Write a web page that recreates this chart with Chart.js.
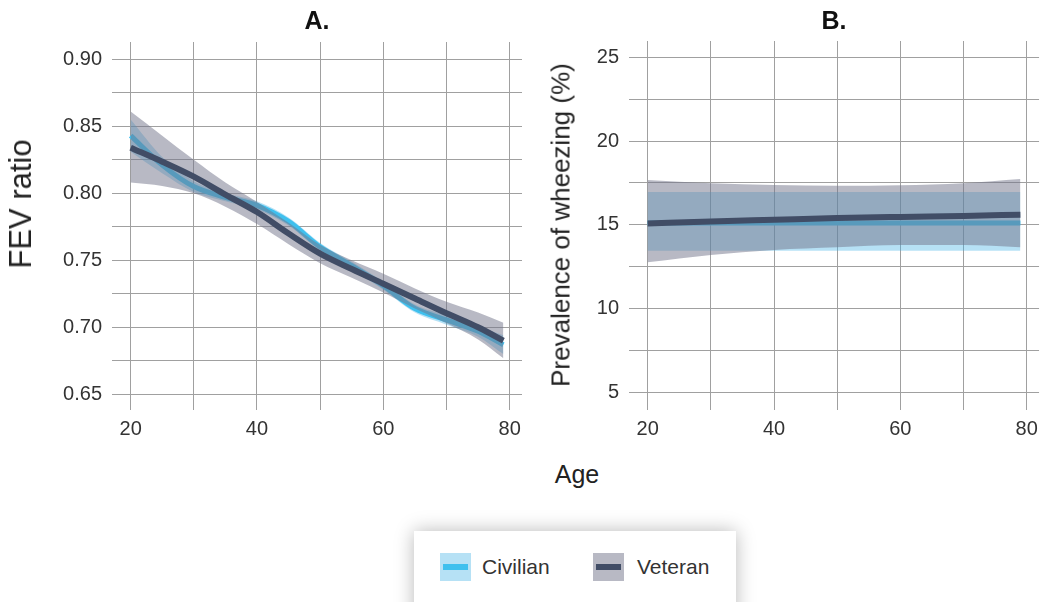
<!DOCTYPE html>
<html><head><meta charset="utf-8">
<script src="https://cdn.jsdelivr.net/npm/chart.js@4.4.0/dist/chart.umd.min.js"></script>
<style>
body{margin:0;background:#fff;width:1045px;height:602px;overflow:hidden;position:relative;font-family:"Liberation Sans",Arial,sans-serif;color:#222}
canvas{position:absolute;top:0}
.t{position:absolute;white-space:nowrap;transform:translate(-50%,-50%)}
.rot{transform:translate(-50%,-50%) rotate(-90deg)}
#legend{position:absolute;left:414px;top:531px;width:322px;height:100px;background:#fff;box-shadow:0 0 18px rgba(0,0,0,0.28)}
.sw{position:absolute;width:31px;height:28px}
.sw i{position:absolute;left:3px;top:11px;width:25px;height:6px}
.lt{position:absolute;font-size:21px;color:#333;transform:translateY(-50%)}
</style></head>
<body>
<canvas id="cA" width="530" height="450" style="left:0"></canvas>
<canvas id="cB" width="515" height="450" style="left:530px"></canvas>
<div class="t" style="left:317px;top:20px;font-weight:bold;font-size:25px;color:#111">A.</div>
<div class="t" style="left:834px;top:20px;font-weight:bold;font-size:25px;color:#111">B.</div>
<div class="t rot" style="left:21px;top:204px;font-size:31px">FEV ratio</div>
<div class="t rot" style="left:561px;top:225px;font-size:26px">Prevalence of wheezing (%)</div>
<div class="t" style="left:577px;top:474px;font-size:25px">Age</div>
<div id="legend"></div>
<script>
// ---- data ----
const seriesNames = ['Civilian', 'Veteran'];
const agesA = [20, 25, 30, 35, 40, 45, 50, 55, 60, 65, 70, 75, 79];
const civFEV      = [0.843, 0.821, 0.805, 0.797, 0.791, 0.779, 0.760, 0.746, 0.731, 0.714, 0.7055, 0.697, 0.687];
const civFEVHigh  = [0.855, 0.827, 0.809, 0.800, 0.794, 0.782, 0.763, 0.749, 0.734, 0.717, 0.709, 0.701, 0.694];
const civFEVLow   = [0.831, 0.815, 0.801, 0.794, 0.788, 0.776, 0.757, 0.743, 0.728, 0.711, 0.702, 0.693, 0.680];
const vetFEV      = [0.834, 0.8236, 0.8124, 0.799, 0.786, 0.770, 0.755, 0.7435, 0.7325, 0.7215, 0.7105, 0.700, 0.690];
const vetFEVHigh  = [0.861, 0.843, 0.825, 0.808, 0.7935, 0.778, 0.7614, 0.750, 0.740, 0.729, 0.719, 0.711, 0.7034];
const vetFEVLow   = [0.808, 0.8055, 0.800, 0.790, 0.777, 0.762, 0.7478, 0.737, 0.726, 0.714, 0.703, 0.691, 0.677];

const agesB = [20, 30, 40, 50, 60, 70, 79];
const civWheeze     = [15.1, 15.1, 15.1, 15.1, 15.1, 15.1, 15.1];
const civWheezeHigh = [16.95, 16.95, 16.95, 16.95, 16.95, 16.95, 16.95];
const civWheezeLow  = [13.45, 13.45, 13.45, 13.45, 13.45, 13.45, 13.45];
const vetWheeze     = [15.08, 15.2, 15.3, 15.4, 15.47, 15.53, 15.6];
const vetWheezeHigh = [17.67, 17.48, 17.38, 17.33, 17.36, 17.48, 17.73];
const vetWheezeLow  = [12.76, 13.2, 13.5, 13.66, 13.79, 13.79, 13.66];

const xGrid = [20, 30, 40, 50, 60, 70, 80];
const xTickLabels = ['20', '', '40', '', '60', '', '80'];
const yAGrid = [0.65, 0.675, 0.70, 0.725, 0.75, 0.775, 0.80, 0.825, 0.85, 0.875, 0.90];
const yATickLabels = ['0.65', '', '0.70', '', '0.75', '', '0.80', '', '0.85', '', '0.90'];
const yBGrid = [5, 7.5, 10, 12.5, 15, 17.5, 20, 22.5, 25];
const yBTickLabels = ['5', '', '10', '', '15', '', '20', '', '25'];

// ---- styles ----
const FONT = '"Liberation Sans", Arial, sans-serif';
const civLine = '#3fc0ee', civBand = 'rgba(63,176,229,0.38)';
const vetLine = '#414d66', vetBand = 'rgba(113,115,137,0.5)';

function pts(xs, ys) { return xs.map((x, i) => ({ x: x, y: ys[i] })); }

function datasets(xs, civ, civH, civL, vet, vetH, vetL) {
  const common = { pointRadius: 0, tension: 0.4, cubicInterpolationMode: 'monotone' };
  return [
    Object.assign({ label: 'vetLine', data: pts(xs, vet), borderColor: vetLine, borderWidth: 6, fill: false, order: 0, borderCapStyle: 'butt' }, common),
    Object.assign({ label: 'vetHigh', data: pts(xs, vetH), borderWidth: 0, borderColor: 'rgba(0,0,0,0)', backgroundColor: vetBand, fill: '+1', order: 1 }, common),
    Object.assign({ label: 'vetLow', data: pts(xs, vetL), borderWidth: 0, borderColor: 'rgba(0,0,0,0)', fill: false, order: 1 }, common),
    Object.assign({ label: 'civLine', data: pts(xs, civ), borderColor: civLine, borderWidth: 5, fill: false, order: 2, borderCapStyle: 'butt' }, common),
    Object.assign({ label: 'civHigh', data: pts(xs, civH), borderWidth: 0, borderColor: 'rgba(0,0,0,0)', backgroundColor: civBand, fill: '+1', order: 3 }, common),
    Object.assign({ label: 'civLow', data: pts(xs, civL), borderWidth: 0, borderColor: 'rgba(0,0,0,0)', fill: false, order: 3 }, common)
  ];
}

function makeChart(id, ds, yMin, yMax, yGrid, yLabels, yWidth, padTop, padRight) {
  return new Chart(document.getElementById(id), {
    type: 'line',
    data: { datasets: ds },
    options: {
      responsive: false, animation: false, devicePixelRatio: 1,
      layout: { padding: { top: padTop, right: padRight, left: 0, bottom: 0 } },
      plugins: { legend: { display: false }, tooltip: { enabled: false } },
      scales: {
        x: {
          type: 'linear', min: 17.05, max: 81.95,
          afterBuildTicks: s => { s.ticks = xGrid.map(v => ({ value: v })); },
          afterFit: s => { s.height = 40; },
          ticks: { autoSkip: false, maxRotation: 0, padding: 7, color: '#333', font: { size: 20, family: FONT },
                   callback: (v, i) => xTickLabels[i] },
          grid: { color: '#a0a0a0', lineWidth: 1, drawTicks: false },
          border: { display: false }
        },
        y: {
          type: 'linear', min: yMin, max: yMax,
          afterBuildTicks: s => { s.ticks = yGrid.map(v => ({ value: v })); },
          afterFit: s => { s.width = yWidth; },
          ticks: { autoSkip: false, padding: 10, color: '#333', font: { size: 20, family: FONT },
                   callback: (v, i) => yLabels[i] },
          grid: { color: '#a0a0a0', lineWidth: 1, drawTicks: false },
          border: { display: false }
        }
      }
    }
  });
}

makeChart('cA', datasets(agesA, civFEV, civFEVHigh, civFEVLow, vetFEV, vetFEVHigh, vetFEVLow),
  0.6383, 0.9129, yAGrid, yATickLabels, 112, 42, 8);
makeChart('cB', datasets(agesB, civWheeze, civWheezeHigh, civWheezeLow, vetWheeze, vetWheezeHigh, vetWheezeLow),
  3.943, 25.97, yBGrid, yBTickLabels, 99, 41, 5);

// ---- legend ----
const lg = document.getElementById('legend');
const legendItems = [
  { name: seriesNames[0], band: civBand, line: civLine, sx: 26, tx: 68 },
  { name: seriesNames[1], band: vetBand, line: vetLine, sx: 179, tx: 223 }
];
legendItems.forEach(it => {
  const sw = document.createElement('div');
  sw.className = 'sw'; sw.style.left = it.sx + 'px'; sw.style.top = '22px'; sw.style.background = it.band;
  const ln = document.createElement('i'); ln.style.background = it.line; sw.appendChild(ln);
  lg.appendChild(sw);
  const t = document.createElement('div');
  t.className = 'lt'; t.style.left = it.tx + 'px'; t.style.top = '36px'; t.textContent = it.name;
  lg.appendChild(t);
});
</script>
</body></html>
